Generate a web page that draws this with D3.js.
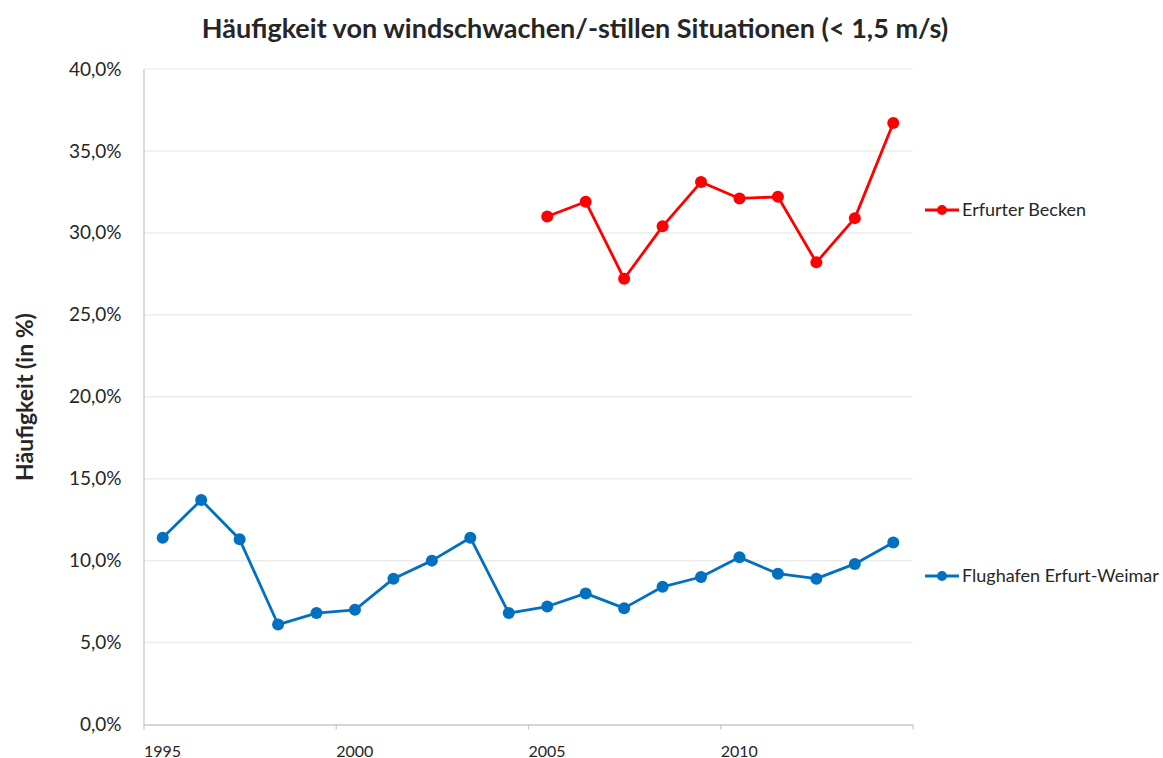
<!DOCTYPE html>
<html>
<head>
<meta charset="utf-8">
<script src="https://cdn.jsdelivr.net/npm/d3@7"></script>
<style>
  body { margin: 0; background: #fff; }
  text { font-family: Lato, "Open Sans", sans-serif; fill: #262626; }
</style>
</head>
<body>
<svg id="chart" width="1163" height="758"></svg>
<script>
// data (mid-year points)
const flughafenYears = d3.range(1995, 2015);
const flughafenValues = [11.4, 13.7, 11.3, 6.1, 6.8, 7.0, 8.9, 10.0, 11.4, 6.8,
                         7.2, 8.0, 7.1, 8.4, 9.0, 10.2, 9.2, 8.9, 9.8, 11.1];
const beckenYears = d3.range(2005, 2015);
const beckenValues = [31.0, 31.9, 27.2, 30.4, 33.1, 32.1, 32.2, 28.2, 30.9, 36.7];
const xTicks = [1995, 2000, 2005, 2010, 2015];
const yTicks = [0, 5, 10, 15, 20, 25, 30, 35, 40];

const series = [
  { name: "Flughafen Erfurt-Weimar", years: flughafenYears, values: flughafenValues, color: "#0070c0" },
  { name: "Erfurter Becken", years: beckenYears, values: beckenValues, color: "#ff0000" }
];

const svg = d3.select("#chart");
const plotLeft = 143.5, plotRight = 912.5, plotTop = 69, plotBottom = 724.5;

const x = d3.scaleLinear().domain([1995, 2015]).range([plotLeft, plotRight]);
const y = d3.scaleLinear().domain([0, 40]).range([plotBottom, plotTop]);

// gridlines
svg.append("g")
  .selectAll("line")
  .data(yTicks.filter(d => d > 0))
  .join("line")
  .attr("x1", plotLeft).attr("x2", plotRight)
  .attr("y1", d => y(d)).attr("y2", d => y(d))
  .attr("stroke", "#ececec").attr("stroke-width", 1.5);

// y axis
const yAxis = svg.append("g")
  .attr("transform", `translate(${plotLeft},0)`)
  .call(d3.axisLeft(y).tickValues(yTicks).tickSize(0).tickPadding(22)
    .tickFormat(d => d3.format(".1f")(d).replace(".", ",") + "%"));
yAxis.select(".domain").attr("stroke", "#d0d0d0").attr("stroke-width", 1.5);
yAxis.selectAll("text").style("font-size", "19px").attr("fill", "#262626");

// x axis
const xAxis = svg.append("g")
  .attr("transform", `translate(0,${plotBottom})`)
  .call(d3.axisBottom(x).tickValues(xTicks).tickSize(5).tickSizeOuter(0)
    .tickFormat(d => d === 2015 ? "" : d));
xAxis.select(".domain").attr("stroke", "#c8c8c8").attr("stroke-width", 1.5);
xAxis.selectAll(".tick line").attr("stroke", "#c8c8c8").attr("stroke-width", 1.2);
xAxis.selectAll("text")
  .style("font-size", "16px").attr("fill", "#262626")
  .attr("text-anchor", "start").attr("dy", null).attr("y", 32);

// lines and markers
const line = d3.line().x(d => x(d.year + 0.5)).y(d => y(d.value));

series.forEach(s => {
  const pts = s.years.map((yr, i) => ({ year: yr, value: s.values[i] }));
  svg.append("path")
    .datum(pts)
    .attr("d", line)
    .attr("fill", "none")
    .attr("stroke", s.color)
    .attr("stroke-width", 2.8)
    .attr("stroke-linejoin", "round");
  svg.append("g")
    .selectAll("circle")
    .data(pts)
    .join("circle")
    .attr("cx", d => x(d.year + 0.5))
    .attr("cy", d => y(d.value))
    .attr("r", 6)
    .attr("fill", s.color);

  // legend entry
  const ly = s.name === "Erfurter Becken" ? 210 : 576;
  const lg = svg.append("g");
  lg.append("line").attr("x1", 925).attr("x2", 959).attr("y1", ly).attr("y2", ly)
    .attr("stroke", s.color).attr("stroke-width", 2.8);
  lg.append("circle").attr("cx", 942).attr("cy", ly).attr("r", 5).attr("fill", s.color);
  lg.append("text").attr("x", 962).attr("y", ly).attr("dy", "0.35em")
    .style("font-size", "18px").text(s.name);
});

// title
svg.append("text")
  .attr("x", 575).attr("y", 38)
  .attr("text-anchor", "middle")
  .style("font-size", "27px").style("font-weight", "bold")
  .attr("fill", "#000")
  .text("Häufigkeit von windschwachen/-stillen Situationen (< 1,5 m/s)");

// y axis title
svg.append("text")
  .attr("transform", "translate(33,397) rotate(-90)")
  .attr("text-anchor", "middle")
  .style("font-size", "23px").style("font-weight", "bold")
  .attr("fill", "#000")
  .text("Häufigkeit (in %)");
</script>
</body>
</html>
